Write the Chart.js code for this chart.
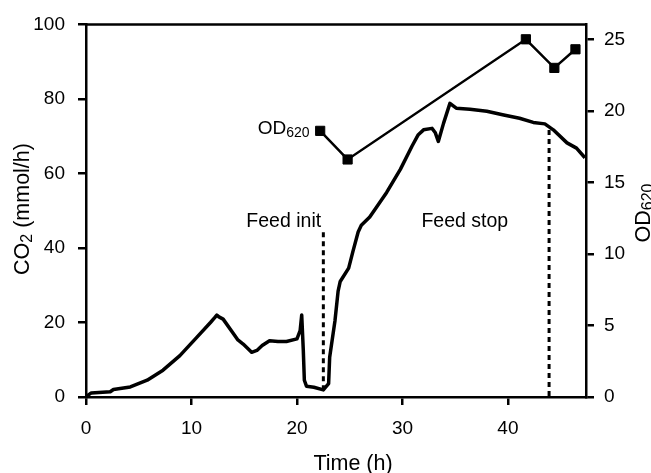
<!DOCTYPE html>
<html>
<head>
<meta charset="utf-8">
<script src="https://cdn.jsdelivr.net/npm/chart.js@4/dist/chart.umd.min.js"></script>
<style>
  html, body { margin: 0; padding: 0; background: #fff; }
  #wrap { width: 651px; height: 473px; }
</style>
</head>
<body>
<div id="wrap"><canvas id="co2Chart" width="651" height="473"></canvas></div>
<script>
// CO2 evolution rate (left axis)
var co2Time = [0.1, 0.5, 2.3, 2.6, 4.2, 5.8, 7.3, 8.9, 10.5, 11.8, 12.2, 12.4, 12.6, 13.0, 14.0, 14.4, 14.9, 15.7,
    16.2, 16.7, 17.4, 18.2, 19.0, 20.0, 20.3, 20.45, 20.6, 20.7, 20.9, 21.6, 22.5, 23.0, 23.1, 23.6, 23.9, 24.1,
    24.9, 25.3, 25.8, 26.1, 26.9, 28.5, 29.8, 30.9, 31.5, 32.0, 32.8, 33.1, 33.4, 33.9, 34.5, 35.1, 36.4, 38.0,
    39.6, 41.1, 42.4, 43.5, 44.3, 45.6, 46.5, 47.3];
var co2Values = [0.3, 1.1, 1.4, 2.0, 2.7, 4.5, 7.2, 11.1, 16.0, 20.0, 21.3, 22.0, 21.5, 20.9, 16.9, 15.3, 14.2, 12.0,
    12.5, 13.8, 15.1, 14.9, 14.9, 15.6, 17.8, 22.0, 12.5, 4.5, 2.9, 2.6, 1.9, 3.6, 10.7, 20.4, 28.4, 31.0,
    34.6, 39.0, 44.3, 46.1, 48.3, 54.9, 61.1, 67.3, 70.4, 71.7, 72.1, 71.0, 68.6, 73.5, 78.8, 77.5, 77.2, 76.7,
    75.7, 74.8, 73.7, 73.3, 71.7, 68.2, 66.8, 64.2];

// OD620 samples (right axis)
var odTime = [22.2, 24.8, 41.7, 44.4, 46.4];
var odValues = [18.6, 16.6, 25.0, 23.0, 24.3];

// feed start / stop markers (time, CO2 range)
var feedInitTime = 22.5;
var feedInitRange = [1.8, 45.2];
var feedStopTime = 43.9;
var feedStopRange = [0.3, 71.7];

var xTicks = [0, 10, 20, 30, 40];
var yTicks = [0, 20, 40, 60, 80, 100];
var odTicks = [0, 5, 10, 15, 20, 25];

var FONT = '"Liberation Sans", Arial, Helvetica, sans-serif';

function pts(xs, ys) {
    return xs.map(function(x, i) { return {x: x, y: ys[i]}; });
}

// text with a subscript part, baseline at y
function subText(ctx, size, main, sub, rest, x, y, align) {
    var subSize = Math.round(size * 0.73);
    ctx.font = size + 'px ' + FONT;
    var w1 = ctx.measureText(main).width;
    var w3 = rest ? ctx.measureText(rest).width : 0;
    ctx.font = subSize + 'px ' + FONT;
    var w2 = ctx.measureText(sub).width;
    var total = w1 + w2 + w3;
    var x0 = x;
    if (align === 'right') x0 = x - total;
    if (align === 'center') x0 = x - total / 2;
    ctx.textAlign = 'left';
    ctx.textBaseline = 'alphabetic';
    ctx.font = size + 'px ' + FONT;
    ctx.fillText(main, x0, y);
    ctx.font = subSize + 'px ' + FONT;
    ctx.fillText(sub, x0 + w1, y + size * 0.16);
    if (rest) {
        ctx.font = size + 'px ' + FONT;
        ctx.fillText(rest, x0 + w1 + w2, y);
    }
}

var labelPlugin = {
    id: 'labels',
    afterDraw: function(chart) {
        var ctx = chart.ctx, a = chart.chartArea;
        var sx = chart.scales.x, sy = chart.scales.y, so = chart.scales.y2;
        ctx.save();
        ctx.fillStyle = '#000';
        // frame top
        ctx.strokeStyle = '#000';
        ctx.lineWidth = 2.5;
        ctx.beginPath();
        ctx.moveTo(a.left - 1, a.top);
        ctx.lineTo(a.right + 1, a.top);
        ctx.stroke();

        // in-plot labels
        ctx.font = '19.5px ' + FONT;
        ctx.textAlign = 'left';
        ctx.textBaseline = 'alphabetic';
        ctx.fillText('Feed init', sx.getPixelForValue(15.2), sy.getPixelForValue(45.6));
        ctx.fillText('Feed stop', sx.getPixelForValue(31.8), sy.getPixelForValue(45.6));
        subText(ctx, 19, 'OD', '620', '', sx.getPixelForValue(21.2), so.getPixelForValue(18.4), 'right');

        // axis titles
        ctx.save();
        ctx.translate(29, 209);
        ctx.rotate(-Math.PI / 2);
        subText(ctx, 21.5, 'CO', '2', ' (mmol/h)', 0, 0, 'center');
        ctx.restore();

        ctx.save();
        ctx.translate(650, 213);
        ctx.rotate(-Math.PI / 2);
        subText(ctx, 21.5, 'OD', '620', '', 0, 0, 'center');
        ctx.restore();

        ctx.font = '21.5px ' + FONT;
        ctx.textAlign = 'center';
        ctx.fillText('Time (h)', 353, 470);
        ctx.restore();
    }
};

function keep(list) {
    return function(scale) {
        scale.ticks = list.map(function(v) { return {value: v}; });
    };
}

function axisStyle(extra) {
    var o = {
        type: 'linear',
        grid: { drawOnChartArea: false, drawTicks: true, tickLength: 8, color: '#000', lineWidth: 2.5 },
        border: { display: true, color: '#000', width: 2.5 },
        ticks: { color: '#000', font: { family: FONT, size: 19 } }
    };
    for (var k in extra) o[k] = extra[k];
    return o;
}

var xAxis = axisStyle({ position: 'bottom', min: 0, max: 47.4,
    afterBuildTicks: keep(xTicks), afterFit: function(s) { s.height = 76; } });
xAxis.ticks.padding = 12;
xAxis.ticks.maxRotation = 0;

var yAxis = axisStyle({ position: 'left', min: 0, max: 100,
    afterBuildTicks: keep(yTicks), afterFit: function(s) { s.width = 86; } });
yAxis.ticks.padding = 13;

var odAxis = axisStyle({ position: 'right', min: 0, max: 26.04,
    afterBuildTicks: keep(odTicks), afterFit: function(s) { s.width = 65; } });
odAxis.ticks.padding = 10;

new Chart(document.getElementById('co2Chart').getContext('2d'), {
    type: 'scatter',
    data: {
        datasets: [{
            label: 'CO2',
            data: pts(co2Time, co2Values),
            yAxisID: 'y',
            showLine: true,
            borderColor: '#000',
            borderWidth: 3.5,
            borderJoinStyle: 'round',
            pointRadius: 0,
            tension: 0
        }, {
            label: 'OD620',
            data: pts(odTime, odValues),
            yAxisID: 'y2',
            showLine: true,
            borderColor: '#000',
            borderWidth: 2.5,
            backgroundColor: '#000',
            pointStyle: 'rect',
            pointRadius: 6.5,
            pointBorderWidth: 1,
            tension: 0
        }, {
            label: 'Feed init',
            data: pts([feedInitTime, feedInitTime], feedInitRange),
            yAxisID: 'y',
            showLine: true,
            borderColor: '#000',
            borderWidth: 3,
            borderDash: [5, 4],
            pointRadius: 0
        }, {
            label: 'Feed stop',
            data: pts([feedStopTime, feedStopTime], feedStopRange),
            yAxisID: 'y',
            showLine: true,
            borderColor: '#000',
            borderWidth: 3,
            borderDash: [5, 4],
            pointRadius: 0
        }]
    },
    options: {
        responsive: false,
        animation: false,
        devicePixelRatio: 1,
        layout: { padding: { top: 20, left: 0, right: 0, bottom: 0 } },
        plugins: { legend: { display: false }, tooltip: { enabled: false } },
        scales: { x: xAxis, y: yAxis, y2: odAxis }
    },
    plugins: [labelPlugin]
});
</script>
</body>
</html>
